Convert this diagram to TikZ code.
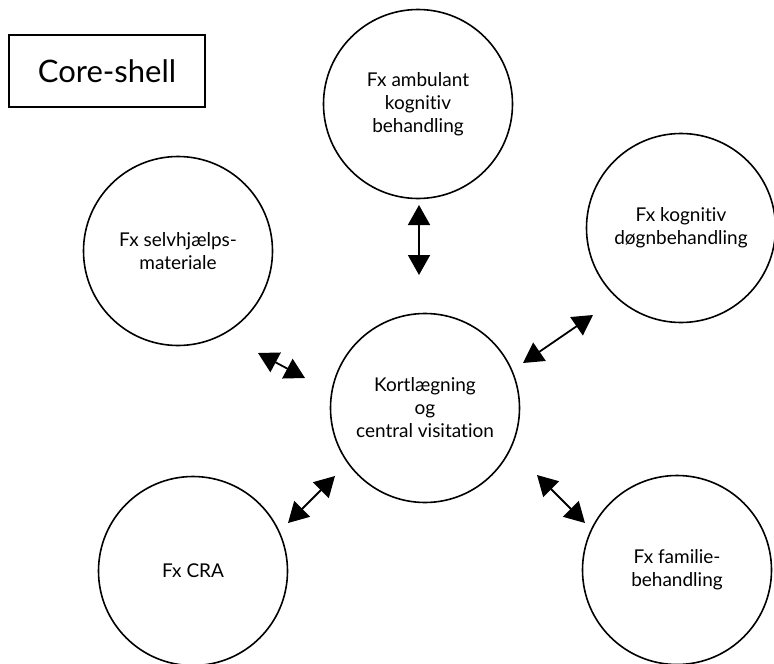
\documentclass[tikz,border=0pt]{standalone}
\usepackage{fontspec}
\setmainfont[Ligatures=NoCommon]{Lato}
\usetikzlibrary{arrows.meta}
\tikzset{
  shellbox/.style={draw,line width=1.6pt,minimum width=196pt,minimum height=72pt,inner sep=0pt,font=\fontsize{31}{36}\selectfont},
  offer/.style={draw,circle,line width=1.6pt,minimum size=189pt,inner sep=0pt,align=center,font=\fontsize{19}{23}\selectfont},
  biarrow/.style={line width=1.8pt,{Triangle[length=20pt,width=22pt]}-{Triangle[length=20pt,width=22pt]}}
}
\begin{document}
\begin{tikzpicture}[x=1pt,y=-1pt]
\useasboundingbox (0,0) rectangle (774,664);
\node[shellbox] (title) at (107,71) {Core-shell};

% the offers round the centre
\node[offer] (center) at (425,408) {Kortlægning\\og\\central visitation};
\node[offer] (ambulant) at (418,104) {Fx ambulant\\kognitiv\\behandling};
\node[offer] (selfhelp) at (178,251) {Fx selvhjælps-\\materiale};
\node[offer] (dogn) at (681,228) {Fx kognitiv\\døgnbehandling};
\node[offer] (cra) at (193,571) {Fx CRA};
\node[offer] (family) at (677,570) {Fx familie-\\behandling};

% arrow ends
\coordinate (a1) at (419,205);
\coordinate (a2) at (419,275);
\coordinate (b1) at (258,353);
\coordinate (b2) at (305,378);
\coordinate (c1) at (593,315);
\coordinate (c2) at (523,363);
\coordinate (d1) at (335,476);
\coordinate (d2) at (288,523);
\coordinate (e1) at (537,475);
\coordinate (e2) at (585,523);

\draw[biarrow] (a1) -- (a2);
\draw[biarrow] (b1) -- (b2);
\draw[biarrow] (c1) -- (c2);
\draw[biarrow] (d1) -- (d2);
\draw[biarrow] (e1) -- (e2);
\end{tikzpicture}
\end{document}
